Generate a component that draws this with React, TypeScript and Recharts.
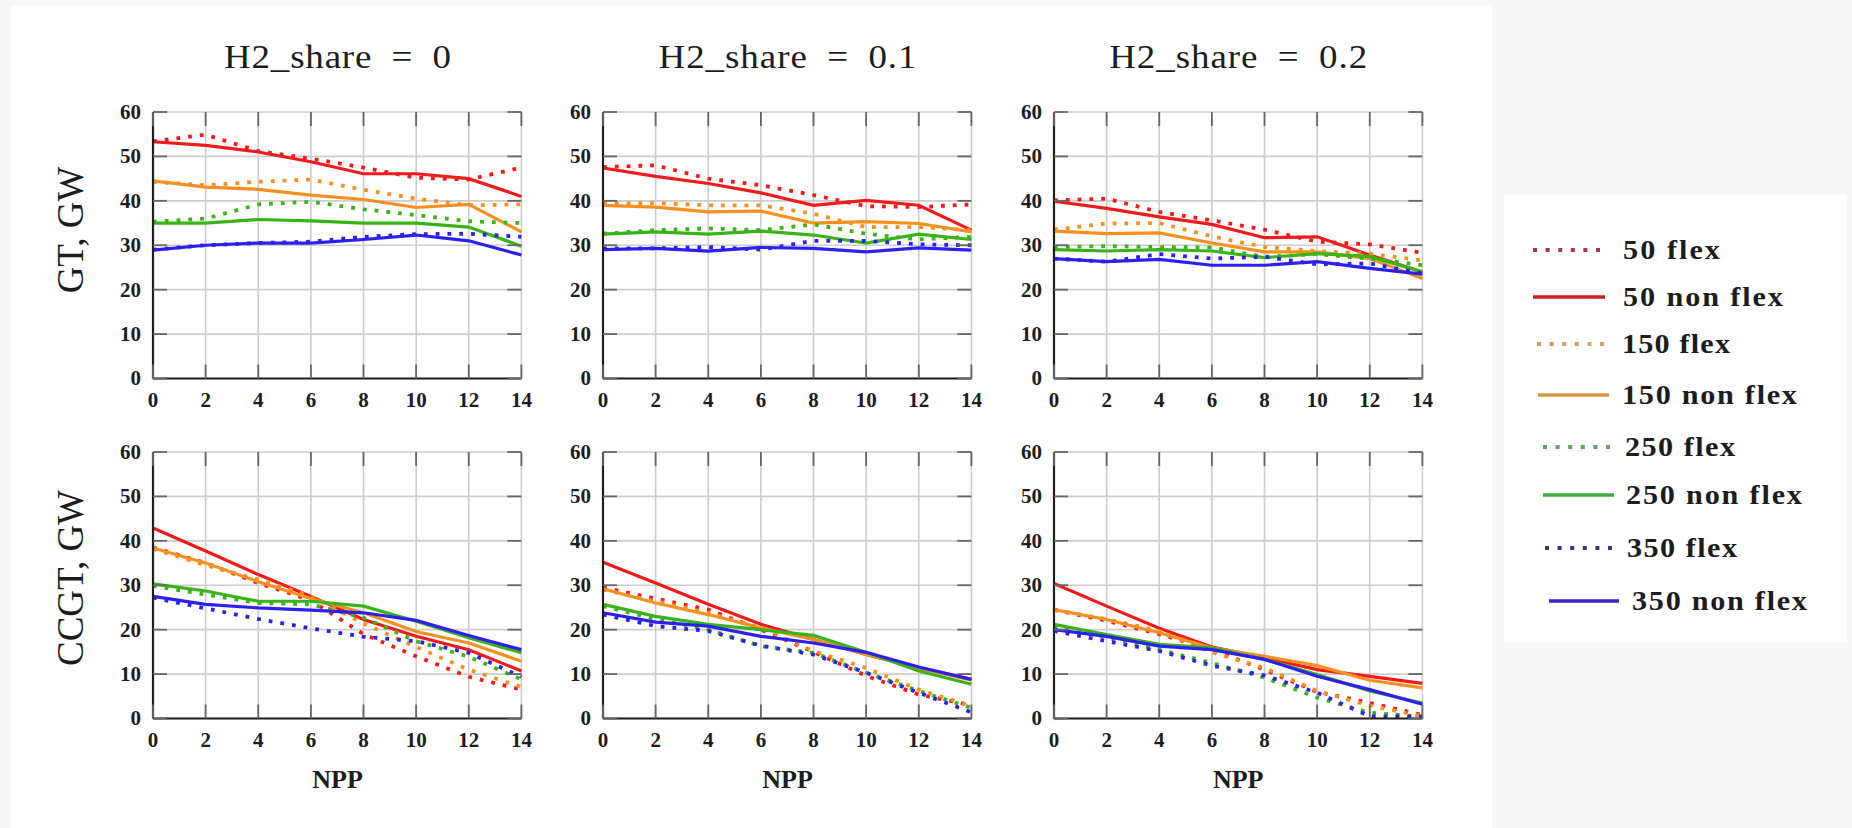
import { LineChart, Line, XAxis, YAxis, CartesianGrid } from "recharts";

const npp = [0, 2, 4, 6, 8, 10, 12, 14];
const yTicks = [0, 10, 20, 30, 40, 50, 60];

const seriesNames = ["50 flex", "50 non flex", "150 flex", "150 non flex", "250 flex", "250 non flex", "350 flex", "350 non flex"];
const titles = ["H2_share\u2002=\u20020", "H2_share\u2002=\u20020.1", "H2_share\u2002=\u20020.2"];
const rowLabels = ["GT, GW", "CCGT, GW"];

// one row per series, in legend order, values at npp = 0..14
const gtShare0 = [
  [53.4, 54.9, 51.2, 49.5, 47.5, 45.2, 44.8, 47.5],
  [53.3, 52.5, 51, 48.8, 46.1, 46.1, 45, 41],
  [44.3, 43.5, 44.3, 44.8, 42.5, 40.5, 39, 39.2],
  [44.5, 43.1, 42.6, 41.3, 40.3, 38.5, 39.2, 33],
  [35.3, 36, 39.2, 39.8, 38.1, 36.8, 35.4, 35],
  [35, 35, 35.8, 35.5, 35, 35, 34.1, 29.8],
  [29, 30, 30.5, 30.8, 31.9, 32.5, 32.6, 31.9],
  [28.9, 30, 30.5, 30.5, 31.3, 32.3, 31, 27.8],
];
const gtShare01 = [
  [47.6, 48, 45, 43.5, 41.3, 38.8, 38.6, 39.2],
  [47.4, 45.5, 43.9, 41.8, 39, 40.1, 39, 33.4],
  [39.4, 39.5, 39, 39, 37.1, 34.1, 34.1, 33.4],
  [39, 38.6, 37.5, 37.7, 35, 35.3, 34.9, 33],
  [32.6, 33.4, 33.8, 33.4, 34.7, 32.6, 31.3, 31.9],
  [32.5, 33, 32.5, 33.2, 32.3, 30.5, 32.5, 31.3],
  [29.3, 29.3, 29.6, 29, 31, 31, 30.2, 30],
  [29, 29.3, 28.7, 29.5, 29.3, 28.5, 29.4, 28.9],
];
const gtShare02 = [
  [40.1, 40.5, 37.5, 35.6, 33.5, 30.8, 30.2, 28.3],
  [39.9, 38.3, 36.4, 34.7, 31.7, 31.9, 27.8, 24],
  [33.5, 34.9, 35, 32, 29.6, 28.7, 28.1, 26.6],
  [33.2, 32.6, 32.8, 30.5, 28.5, 28.5, 27, 22.5],
  [29.6, 29.8, 29.6, 29.5, 27.4, 28, 27, 25.5],
  [29, 28.7, 29, 28.7, 27.2, 28.1, 27.5, 24],
  [27, 26.3, 28, 27, 27.4, 25.7, 25.9, 23.6],
  [27, 26.3, 26.8, 25.5, 25.5, 26.3, 24.8, 23.5],
];
const ccgtShare0 = [
  [38.5, 35, 30.5, 26.6, 19, 14, 9.4, 6.5],
  [42.9, 37.7, 32.4, 27.5, 22.3, 18.5, 15.5, 10.7],
  [38.2, 34.5, 31.3, 27.5, 21.4, 16.1, 11, 7.1],
  [38.4, 35, 30.8, 27, 23.8, 19.6, 17, 12.9],
  [29.9, 27.9, 26, 25.7, 22.7, 17.4, 13.9, 8.8],
  [30.3, 28.7, 26.4, 26.4, 25.3, 21.9, 18.2, 14.8],
  [27.2, 24.8, 22.4, 20.3, 18.4, 17.4, 14.8, 9.4],
  [27.5, 25.7, 24.9, 24.4, 23.8, 22.1, 18.7, 15.5],
];
const ccgtShare01 = [
  [29.5, 27, 24.5, 20, 15, 9.6, 5.4, 3],
  [35.2, 30.5, 25.7, 21.2, 17.8, 14.4, 11.4, 8.8],
  [29, 26.4, 23.8, 20.4, 15.2, 11.4, 6.5, 2.8],
  [29.2, 26, 23.4, 20.4, 17.8, 14.4, 11.4, 8.6],
  [25.3, 22.4, 20, 16.3, 14.8, 10.3, 6.2, 2.4],
  [25.7, 23, 21.2, 20, 18.7, 14.9, 10.7, 7.7],
  [23.4, 20.8, 19.7, 16.4, 14.4, 10.3, 5.8, 1.4],
  [23.8, 21.7, 20.8, 18.5, 17, 14.9, 11.6, 8.8],
];
const ccgtShare02 = [
  [24.5, 22, 19, 15.5, 11, 6, 3.5, 0.8],
  [30.4, 25.3, 20.3, 16.1, 13.7, 11, 9.5, 7.9],
  [24.4, 22.4, 19.7, 14.9, 11.4, 6.2, 2.9, 0.5],
  [24.5, 22.3, 19.3, 15.9, 14, 11.9, 8.6, 6.9],
  [20.8, 18.2, 15.5, 12.5, 9.2, 4.7, 1.3, 0.4],
  [21.2, 18.9, 16.7, 15.9, 13.3, 9.9, 6.2, 3.5],
  [19.7, 17.4, 15.2, 11.9, 9.7, 5.8, 0.5, 0.4],
  [20, 18.5, 16.3, 15.5, 13.3, 9.5, 6.5, 3.2],
];

const panels = [
  [gtShare0, gtShare01, gtShare02],
  [ccgtShare0, ccgtShare01, ccgtShare02],
];

const lineColors = ["#f21a1a", "#f21a1a", "#f7901e", "#f7901e", "#38b418", "#38b418", "#2d1ff2", "#2d1ff2"];
const legendColors = ["#a83848", "#cc2222", "#c8a468", "#d8944a", "#60a060", "#3caa3c", "#343488", "#3424d0"];

const FONT = "'Liberation Serif', 'DejaVu Serif', serif";
const INK = "#1c1c1c";
const FRAME = { stroke: "#1e1e1e", strokeWidth: 2.2 };
const STRETCH = 1.12; // computer-modern glyphs are wider than Times

// layout
const PLOT_LEFTS = [153.3, 603.3, 1054];
const PLOT_TOPS = [111.7, 452.3];
const PW = 368.4;
const PH = 266.5;
const AXW = 70;
const MT = 20;
const MR = 20;
const AXH = 45;
const PL = AXW;
const PR = AXW + PW;
const PT = MT;
const PB = MT + PH;

const legendRows = [
  { x1: 1533, x2: 1605, y: 250, tx: 1623, len: 97 },
  { x1: 1533, x2: 1605, y: 297, tx: 1623, len: 160 },
  { x1: 1537, x2: 1607, y: 344, tx: 1622, len: 108 },
  { x1: 1538, x2: 1609, y: 395, tx: 1622, len: 175 },
  { x1: 1543, x2: 1610, y: 447, tx: 1625, len: 110 },
  { x1: 1543, x2: 1614, y: 495, tx: 1626, len: 176 },
  { x1: 1545, x2: 1614, y: 548, tx: 1627, len: 110 },
  { x1: 1549, x2: 1619, y: 601, tx: 1632, len: 175 },
];

function buildRows(series: number[][]) {
  return npp.map((x, i) => {
    const row: any = { x };
    series.forEach((s, k) => (row["s" + k] = s[i]));
    return row;
  });
}

const YTick = (props: any) => {
  const { y, payload } = props;
  return (
    <g>
      <line x1={PL} x2={PL + 14} y1={y} y2={y} stroke="#666" strokeWidth={1.8} />
      <line x1={PR - 14} x2={PR} y1={y} y2={y} stroke="#666" strokeWidth={1.8} />
      <text x={PL - 12} y={y} textAnchor="end" dominantBaseline="central" fontFamily={FONT} fontWeight="bold" fontSize={21} fill={INK}>
        {payload.value}
      </text>
    </g>
  );
};

const XTick = (props: any) => {
  const { x, payload } = props;
  return (
    <g>
      <line x1={x} x2={x} y1={PT} y2={PT + 14} stroke="#666" strokeWidth={1.8} />
      <line x1={x} x2={x} y1={PB - 14} y2={PB} stroke="#666" strokeWidth={1.8} />
      <text x={x} y={PB + 29} textAnchor="middle" fontFamily={FONT} fontWeight="bold" fontSize={21} fill={INK}>
        {payload.value}
      </text>
    </g>
  );
};

function Panel({ series, left, top }: { series: number[][]; left: number; top: number }) {
  const data = buildRows(series);
  return (
    <div style={{ position: "absolute", left: left - AXW, top: top - MT }}>
      <LineChart width={AXW + PW + MR} height={MT + PH + AXH} data={data} margin={{ top: MT, right: MR, left: 0, bottom: 0 }}>
        <CartesianGrid stroke="#cdcdcd" strokeWidth={1.6} />
        <XAxis type="number" dataKey="x" domain={[0, 14]} ticks={npp} interval={0} height={AXH} axisLine={FRAME} tickLine={false} tick={<XTick />} />
        <XAxis xAxisId="top" orientation="top" type="number" dataKey="x" domain={[0, 14]} ticks={npp} height={0} axisLine={FRAME} tickLine={false} tick={false} />
        <YAxis type="number" domain={[0, 60]} ticks={yTicks} interval={0} width={AXW} axisLine={FRAME} tickLine={false} tick={<YTick />} />
        <YAxis yAxisId="right" orientation="right" type="number" domain={[0, 60]} ticks={yTicks} width={0} axisLine={FRAME} tickLine={false} tick={false} />
        {series.map((_, k) => (
          <Line
            key={k}
            type="linear"
            dataKey={"s" + k}
            stroke={lineColors[k]}
            strokeWidth={k % 2 === 0 ? 3.8 : 3.2}
            strokeDasharray={k % 2 === 0 ? "3.8 8" : undefined}
            dot={false}
            activeDot={false}
            isAnimationActive={false}
          />
        ))}
      </LineChart>
    </div>
  );
}

export default function App() {
  return (
    <div style={{ position: "absolute", left: 0, top: 0, width: 1852, height: 828, background: "#f7f7f7", overflow: "hidden" }}>
      <div style={{ position: "absolute", left: 11, top: 5, width: 1481, height: 823, background: "#fff" }} />
      <div style={{ position: "absolute", left: 1504, top: 195, width: 343, height: 448, background: "#fff" }} />
      {panels.map((row, r) =>
        row.map((series, c) => <Panel key={r + "-" + c} series={series} left={PLOT_LEFTS[c]} top={PLOT_TOPS[r]} />)
      )}
      <svg width={1852} height={828} style={{ position: "absolute", left: 0, top: 0, pointerEvents: "none" }}>
        {titles.map((t, c) => (
          <text
            key={t}
            transform={`translate(${PLOT_LEFTS[c] + PW / 2},68) scale(${STRETCH},1)`}
            textAnchor="middle"
            fontFamily={FONT}
            fontSize={33}
            fill={INK}
            textLength={(c === 0 ? 227 : 258) / STRETCH}
            lengthAdjust="spacing"
          >
            {t}
          </text>
        ))}
        {rowLabels.map((t, r) => (
          <text key={t} transform={`translate(70,${r === 0 ? 230 : 578}) rotate(-90)`} textAnchor="middle" dominantBaseline="central" fontFamily={FONT} fontSize={37} fill={INK}>
            {t}
          </text>
        ))}
        {PLOT_LEFTS.map((l, c) => (
          <text key={c} x={l + PW / 2} y={PLOT_TOPS[1] + PH + 69} textAnchor="middle" fontFamily={FONT} fontWeight="bold" fontSize={26} fill={INK}>
            NPP
          </text>
        ))}
        {legendRows.map((g, i) => (
          <g key={seriesNames[i]}>
            <line
              x1={g.x1}
              x2={g.x2}
              y1={g.y}
              y2={g.y}
              stroke={legendColors[i]}
              strokeWidth={i % 2 === 0 ? 4 : 3.4}
              strokeDasharray={i % 2 === 0 ? "4 8.6" : undefined}
            />
            <text
              transform={`translate(${g.tx},${g.y + 9}) scale(${STRETCH},1)`}
              fontFamily={FONT}
              fontWeight="bold"
              fontSize={27}
              fill={INK}
              textLength={g.len / STRETCH}
              lengthAdjust="spacing"
            >
              {seriesNames[i]}
            </text>
          </g>
        ))}
      </svg>
    </div>
  );
}
